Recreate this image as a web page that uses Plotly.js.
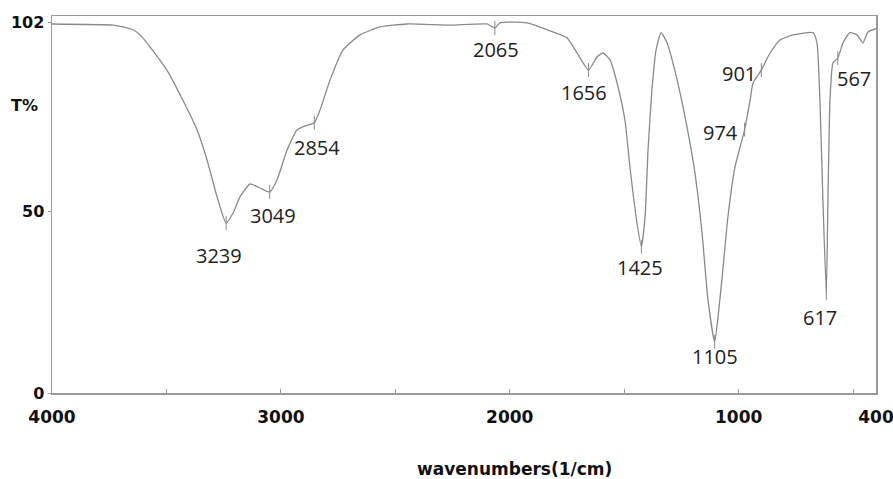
<!DOCTYPE html>
<html><head><meta charset="utf-8">
<script src="https://cdn.plot.ly/plotly-3.0.1.min.js"></script>
<style>html,body{margin:0;padding:0;background:#fff;}#chart{width:893px;height:479px;}</style>
</head><body><div id="chart"></div>
<script>
// Spectrum
const wavenumber = [4000,3733,3690,3646,3615,3572,3498,3428,3366,3323,3279,3239,3209,3178,3135,3091,3049,3017,2973,2930,2903,2854,2829,2785,2729,2654,2567,2449,2261,2100,2065,2043,1925,1837,1750,1706,1656,1619,1593,1562,1527,1497,1475,1448,1425,1409,1396,1379,1361,1339,1313,1269,1226,1191,1160,1134,1105,1090,1068,1047,1016,974,950,937,901,863,819,762,675,658,645,632,617,610,601,588,567,544,514,483,457,435,400];
const transmittance = [101.7,101.4,100.9,100.1,98.7,95.4,89.0,80.7,72.5,64.3,54.1,46.8,49.6,54.1,57.6,56.5,55.4,58.7,67.0,72.5,73.4,74.5,78.0,86.3,94.5,98.7,100.9,101.7,101.4,101.7,100.6,102.0,102.0,100.1,97.9,93.7,89.0,92.6,93.7,91.8,84.4,75.3,62.3,48.5,40.3,48.5,67.0,83.5,94.5,99.3,96.5,86.3,73.4,60.6,44.1,25.6,14.1,21.0,34.7,48.5,62.3,72.6,80.7,85.5,89.0,93.7,97.3,98.7,99.3,96.5,80.7,53.2,27.5,53.2,80.7,91.0,92.3,96.5,99.3,98.7,96.5,99.5,100.4];
// Labelled peaks
const peakWavenumber = [3239,3049,2854,2065,1656,1425,1105,974,901,617,567];
const peakT = [46.8,55.4,74.5,100.6,89.0,40.3,14.1,72.6,89.0,27.5,92.3];
const peakLabels = ["3239","3049","2854","2065","1656","1425","1105","974","901","617","567"];
// Axis ticks
const xTickVals = [4000,3500,3000,2500,2000,1500,1000,500,400];
const xTickText = ["4000","","3000","","2000","","1000","","400"];
const yTickVals = [0,50,102];
const yTickText = ["0","50","102"];

// label offsets (px) relative to peak
const labelShift = [[-7,-32],[3,-24],[3,-25],[1,-22],[-5,-22],[-1,-21],[0,-15],[-24,-3],[-22,-3],[-6,-24],[16,-20]];

const gray = '#8a8a8a';
const traces = [
  {x: wavenumber, y: transmittance, type:'scatter', mode:'lines',
   line:{color:gray, width:1.3, shape:'spline', smoothing:0.5}, hoverinfo:'skip'},
  {x: peakWavenumber, y: peakT, type:'scatter', mode:'markers',
   marker:{symbol:'line-ns-open', size:10, color:gray, line:{color:gray, width:1}}, hoverinfo:'skip'}
];
const annotations = peakLabels.map((t,i)=>({
  x: peakWavenumber[i], y: peakT[i], xref:'x', yref:'y', text:t, showarrow:false,
  xshift: labelShift[i][0], yshift: labelShift[i][1],
  font:{family:'Open Sans, sans-serif', size:20, color:'#222'}
}));
annotations.push({xref:'paper', yref:'y', x:0, y:79.1, xanchor:'right', xshift:-12, text:'<b>T%</b>', showarrow:false,
  font:{family:'DejaVu Sans, sans-serif', size:16, color:'#111'}});
annotations.push({xref:'paper', yref:'paper', x:0.5, y:0, xanchor:'center', yanchor:'middle', xshift:50, yshift:-76,
  text:'<b>wavenumbers(1/cm)</b>', showarrow:false,
  font:{family:'DejaVu Sans, sans-serif', size:17, color:'#111'}});

const layout = {
  width:893, height:479,
  margin:{l:52, r:17, t:16, b:86},
  paper_bgcolor:'#fff', plot_bgcolor:'#fff',
  showlegend:false,
  xaxis:{range:[4000,400], tickmode:'array', tickvals:xTickVals, ticktext:xTickText,
    ticks:'inside', ticklen:4, tickcolor:'#999', showgrid:false, zeroline:false,
    showline:true, linecolor:'#9a9a9a', linewidth:1.5, mirror:true,
    tickfont:{family:'DejaVu Sans, sans-serif', size:17, color:'#111', weight:'bold'},
    ticklabelstandoff:8, ticklabeloverflow:'allow'},
  yaxis:{range:[0,103.9], tickmode:'array', tickvals:yTickVals, ticktext:yTickText,
    ticks:'outside', ticklen:3, tickcolor:'#999', showgrid:false, zeroline:false,
    showline:true, linecolor:'#9a9a9a', linewidth:1.5, mirror:true,
    tickfont:{family:'DejaVu Sans, sans-serif', size:16, color:'#111', weight:'bold'}},
  annotations: annotations
};
Plotly.newPlot('chart', traces, layout, {displayModeBar:false, staticPlot:true});
</script></body></html>
